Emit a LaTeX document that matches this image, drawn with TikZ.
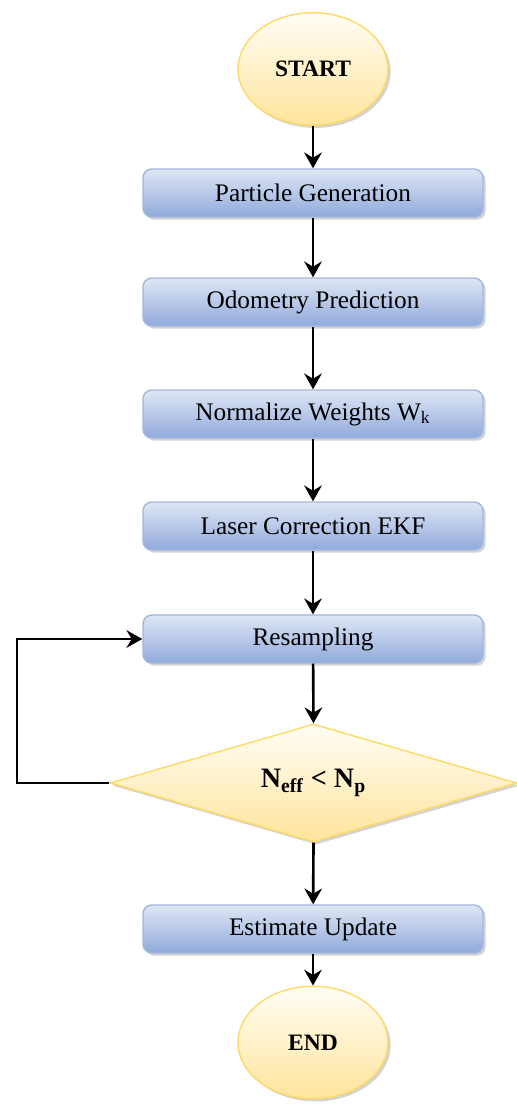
\documentclass[tikz,border=0pt]{standalone}
\usepackage{fontspec}
\setmainfont{Liberation Serif}
\usetikzlibrary{shapes.geometric,arrows.meta,shadows}

\definecolor{boxtop}{HTML}{DFE6F5}
\definecolor{boxbot}{HTML}{90AADB}
\definecolor{boxline}{HTML}{A3B6DF}
\definecolor{termtop}{HTML}{FFFDF5}
\definecolor{termbot}{HTML}{FFE49C}
\definecolor{termline}{HTML}{FFD966}

\tikzset{
  procbox/.style={draw=boxline, line width=0.8pt, rectangle, rounded corners=5pt,
    minimum width=6.8cm, minimum height=0.96cm,
    top color=boxtop, bottom color=boxbot,
    drop shadow={opacity=0.35, shadow xshift=1.5pt, shadow yshift=-1.5pt},
    font=\fontsize{14.4}{16}\selectfont},
  termnode/.style={draw=termline, line width=0.8pt, ellipse,
    minimum width=3cm, minimum height=2.25cm,
    top color=termtop, bottom color=termbot,
    drop shadow={opacity=0.35, shadow xshift=1.5pt, shadow yshift=-1.5pt},
    font=\fontsize{13.4}{15}\selectfont\bfseries},
  decnode/.style={draw=termline, line width=0.8pt, diamond, aspect=3.4, inner sep=0pt,
    minimum width=8.14cm, minimum height=2.36cm,
    top color=termtop, bottom color=termbot,
    drop shadow={opacity=0.35, shadow xshift=1.5pt, shadow yshift=-1.5pt},
    font=\fontsize{16}{18}\selectfont\bfseries},
  flow/.style={->, line width=1.5pt}
}

\begin{document}
\begin{tikzpicture}[>={Stealth[length=9pt,width=10pt,inset=3pt]}]
    \useasboundingbox (0,0) rectangle (10.34,-22.3);

    % 开始
    \node[termnode] (start) at (6.26,-1.38) {START};

    % 处理步骤
    \node[procbox] (gen) at (6.26,-3.86) {Particle Generation};
    \node[procbox] (odo) at (6.26,-6.04) {Odometry Prediction};
    \node[procbox] (norm) at (6.26,-8.28) {Normalize Weights W\textsubscript{k}};
    \node[procbox] (laser) at (6.26,-10.52) {Laser Correction EKF};
    \node[procbox] (resamp) at (6.26,-12.78) {Resampling};

    % 判断
    \node[decnode] (dec) at (6.27,-15.66) {N\textsubscript{eff} < N\textsubscript{p}};

    \node[procbox] (est) at (6.26,-18.58) {Estimate Update};

    % 结束
    \node[termnode] (stop) at (6.26,-20.85) {END};

    \draw[flow] (start.south) -- (gen.north);
    \draw[flow] (gen) -- (odo);
    \draw[flow] (odo) -- (norm);
    \draw[flow] (norm) -- (laser);
    \draw[flow] (laser) -- (resamp);
    \draw[flow] (resamp) -- (dec.north);
    \draw[flow] (dec.south) -- (est);
    \draw[flow] (est) -- (stop.north);

    % 重采样回路
    \coordinate (loop) at (0.34,-15.66);
    \draw[flow] (dec.west) -- (loop) |- (resamp.west);
\end{tikzpicture}
\end{document}
